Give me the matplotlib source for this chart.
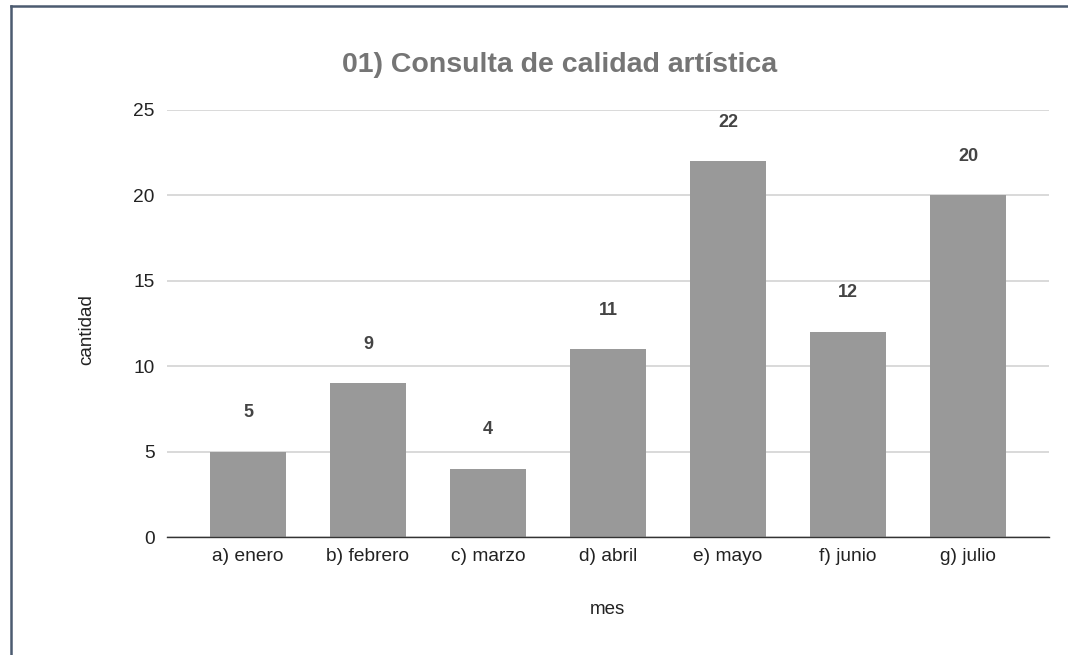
import matplotlib
matplotlib.use("Agg")
import matplotlib.pyplot as plt
from matplotlib.lines import Line2D

categories = ["a) enero", "b) febrero", "c) marzo", "d) abril", "e) mayo", "f) junio", "g) julio"]
values = [5, 9, 4, 11, 22, 12, 20]
yticks = [0, 5, 10, 15, 20, 25]
title = "01) Consulta de calidad artística"
xlabel = "mes"
ylabel = "cantidad"

plt.rcParams['font.family'] = ['Liberation Sans', 'DejaVu Sans']

W, H = 1068, 655
fig = plt.figure(figsize=(W / 100, H / 100), dpi=100)
fig.patch.set_facecolor("white")

ax = fig.add_axes([167 / W, (H - 537) / H, 882 / W, (537 - 110) / H])
x = list(range(len(categories)))
ax.bar(x, values, width=0.64, color="#999999", zorder=3)

for xi, v in zip(x, values):
    ax.annotate(str(v), (xi, v), xytext=(0, 22), textcoords="offset points",
                ha="center", va="bottom", fontsize=13, fontweight="bold", color="#444444")

ax.set_xlim(-0.675, len(categories) - 1 + 0.675)
ax.set_ylim(0, 25)
ax.set_yticks(yticks)
ax.set_xticks(x)
ax.set_xticklabels(categories)
ax.tick_params(axis="both", length=0, labelsize=13.8, colors="#222222")
ax.tick_params(axis="y", pad=9)
ax.tick_params(axis="x", pad=8)
ax.grid(axis="y", color="#d0d0d0", linewidth=1.1, zorder=0)
for s in ["top", "right", "left"]:
    ax.spines[s].set_visible(False)
ax.spines["bottom"].set_color("#333333")
ax.spines["bottom"].set_linewidth(1.0)
ax.spines["bottom"].set_zorder(4)

fig.text(560 / W, 1 - 65 / H, title, ha="center", va="center", fontsize=20.5,
         fontweight="bold", color="#757575")
fig.text(607 / W, 1 - 610 / H, xlabel, ha="center", va="center", fontsize=13.5, color="#222222")
fig.text(87 / W, 1 - 330 / H, ylabel, ha="center", va="center", fontsize=13.5,
         color="#222222", rotation=90)

# outer border (top and left)
fig.add_artist(Line2D([10.5 / W, 1], [1 - 6 / H, 1 - 6 / H], color="#4c5b70", linewidth=1.8,
                      transform=fig.transFigure))
fig.add_artist(Line2D([10.5 / W, 10.5 / W], [0, 1 - 6 / H], color="#4c5b70", linewidth=1.8,
                      transform=fig.transFigure))

fig.savefig("out.png", dpi=100, facecolor="white")
